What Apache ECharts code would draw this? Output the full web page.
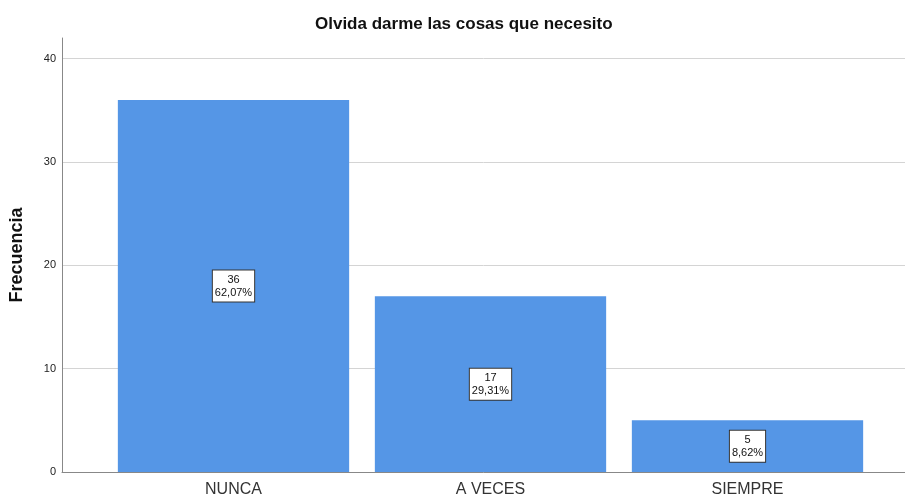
<!DOCTYPE html>
<html>
<head>
<meta charset="utf-8">
<script src="https://cdn.jsdelivr.net/npm/echarts@6/dist/echarts.min.js"></script>
<style>
  html, body { margin: 0; padding: 0; background: #fff; }
  #chart { width: 905px; height: 499px; }
</style>
</head>
<body>
<div id="chart"></div>
<script>
const categories = ["NUNCA", "A VECES", "SIEMPRE"];
const counts = [36, 17, 5];
const percents = ["62,07%", "29,31%", "8,62%"];
const yTicks = [0, 10, 20, 30, 40];

const font = "Liberation Sans, Arial, sans-serif";
const chart = echarts.init(document.getElementById("chart"));

chart.setOption({
  animation: false,
  title: {
    text: "Olvida darme las cosas que necesito",
    left: 310,
    top: 11,
    textStyle: { fontFamily: font, fontSize: 17, fontWeight: "bold", color: "#111" },
  },
  grid: [
    // axis frame
    { left: 62, right: 0, top: 38, bottom: 27 },
    // bars
    { left: 105, right: 29, top: 38, bottom: 27 },
  ],
  xAxis: [
    {
      gridIndex: 0,
      type: "value",
      min: 0,
      max: 1,
      axisLine: { show: true, lineStyle: { color: "#888", width: 1 } },
      axisTick: { show: false },
      axisLabel: { show: false },
      splitLine: { show: false },
    },
    {
      gridIndex: 1,
      type: "category",
      data: categories,
      axisLine: { show: false },
      axisTick: { show: false },
      axisLabel: { fontFamily: font, fontSize: 16, color: "#333", margin: 10 },
    },
  ],
  yAxis: [
    {
      gridIndex: 0,
      type: "value",
      min: 0,
      max: 42,
      interval: 10,
      name: "Frecuencia",
      nameLocation: "middle",
      nameGap: 36,
      nameTextStyle: { fontFamily: font, fontSize: 18, fontWeight: "bold", color: "#111" },
      axisLine: { show: true, lineStyle: { color: "#888", width: 1 } },
      axisTick: { show: false },
      axisLabel: {
        fontFamily: font,
        fontSize: 11,
        color: "#222",
        margin: 6,
        formatter: (v) => (yTicks.includes(v) ? String(v) : ""),
      },
      splitLine: {
        show: true,
        lineStyle: {
          color: ["#d4d4d4", "#d4d4d4", "#d4d4d4", "#d4d4d4", "#d4d4d4", "rgba(0,0,0,0)"],
          width: 1,
        },
      },
    },
    {
      gridIndex: 1,
      type: "value",
      min: 0,
      max: 42,
      interval: 10,
      show: false,
      splitLine: { show: false },
    },
  ],
  series: [
    {
      type: "bar",
      xAxisIndex: 1,
      yAxisIndex: 1,
      data: counts,
      barCategoryGap: "10%",
      itemStyle: { color: "#5596e6" },
      label: {
        show: true,
        position: "inside",
        formatter: (p) => p.value + "\n" + percents[p.dataIndex],
        fontFamily: font,
        fontSize: 11,
        lineHeight: 13,
        color: "#111",
        backgroundColor: "#fff",
        borderColor: "#333",
        borderWidth: 1,
        padding: [3, 2, 2, 2],
      },
    },
  ],
});
</script>
</body>
</html>
